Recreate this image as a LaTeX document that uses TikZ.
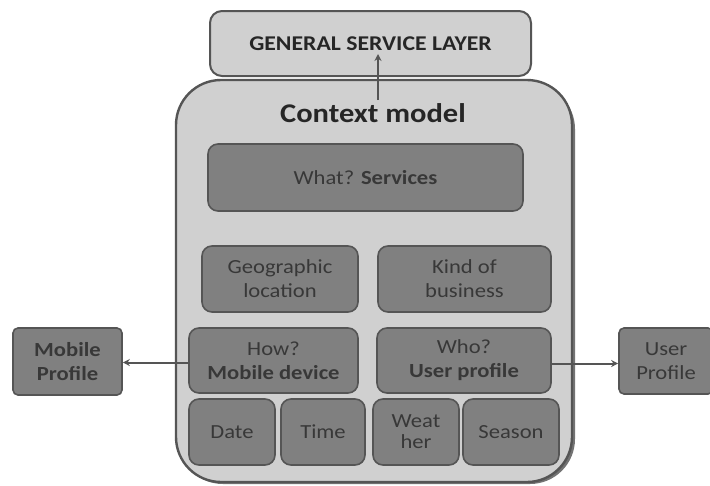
\documentclass[tikz,border=0pt]{standalone}
\usepackage{fontspec}
\setmainfont[FakeStretch=1.13]{Carlito}
\usetikzlibrary{arrows.meta}
\definecolor{paleGray}{HTML}{D0D0D0}
\definecolor{midGray}{HTML}{808080}
\definecolor{edgeGray}{HTML}{555555}
\definecolor{inkGray}{HTML}{383838}
\begin{document}
\begin{tikzpicture}[x=1pt,y=-1pt,
  panel/.style={draw=edgeGray, line width=2pt, fill=paleGray, rounded corners=12pt,
    inner sep=0pt, align=center, text=black!85},
  cell/.style={draw=edgeGray, line width=1.6pt, fill=midGray, rounded corners=10pt,
    inner sep=0pt, align=center, text=inkGray, font=\fontsize{20}{24}\selectfont},
  side/.style={cell, rounded corners=5pt},
  link/.style={draw=edgeGray, line width=2pt, -{Stealth[length=7pt,width=7pt]}}]
\useasboundingbox (0,0) rectangle (710,485);
\fill[white] (0,0) rectangle (710,485);

% layers
\node[panel, minimum width=321pt, minimum height=65pt, font=\bfseries\fontsize{21}{24}\selectfont]
  (gsl) at (370.5,43.5) {GENERAL SERVICE LAYER};
\fill[black!55] (178,84) [rounded corners=45pt] rectangle (575,484);
\node[panel, rounded corners=45pt, line width=2.4pt, minimum width=396pt, minimum height=402pt]
  (ctx) at (374,281) {};
\node[font=\bfseries\fontsize{27}{30}\selectfont, text=black!85] (title) at (373,113) {Context model};

% context dimensions
\node[cell, minimum width=315pt, minimum height=67pt] (what) at (365.5,177.5) {What? \textbf{Services}};
\node[cell, minimum width=156pt, minimum height=66pt] (geo) at (280,279) {Geographic\\location};
\node[cell, minimum width=173pt, minimum height=66pt] (kind) at (464.5,279) {Kind of\\business};
\node[cell, minimum width=169pt, minimum height=65pt] (how) at (273.5,360.5) {How?\\\textbf{Mobile device}};
\node[cell, minimum width=174pt, minimum height=65pt] (who) at (464,360.5) {Who?\\\textbf{User profile}};
\node[cell, minimum width=86pt, minimum height=66pt] (date) at (232,432) {Date};
\node[cell, minimum width=84pt, minimum height=66pt] (time) at (323,432) {Time};
\node[cell, minimum width=86pt, minimum height=66pt, font=\fontsize{20}{21}\selectfont] (weather) at (416,432) {Weat\\her};
\node[cell, minimum width=96pt, minimum height=66pt] (season) at (511,432) {Season};

% external profiles
\node[side, minimum width=109pt, minimum height=67pt, font=\bfseries\fontsize{20}{24}\selectfont]
  (mob) at (67.5,361.5) {Mobile\\Profile};
\node[side, minimum width=94pt, minimum height=66pt] (user) at (666,361) {User\\Profile};

% connectors
\coordinate (up0) at (378,100);
\coordinate (up1) at (378,54);
\draw[link] (up0) -- (up1);
\draw[link] ([yshift=-2pt]how.west) -- ([yshift=-2pt]how.west -| mob.east);
\draw[link] ([yshift=-3pt]who.east) -- ([yshift=-3pt]who.east -| user.west);
\end{tikzpicture}
\end{document}
